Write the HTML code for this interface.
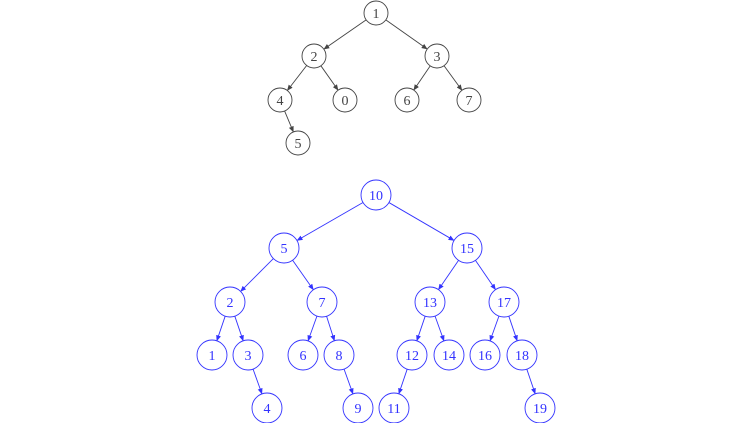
<!DOCTYPE html>
<html><head><meta charset="utf-8"><style>
html,body{margin:0;padding:0;background:#fff;width:752px;height:423px;overflow:hidden}
text{font-family:"Liberation Serif",serif;font-size:14px}
</style></head><body>
<svg id="s" width="752" height="423" xmlns="http://www.w3.org/2000/svg">
<defs>
<marker id="ab" markerWidth="6" markerHeight="6" refX="5" refY="3" orient="auto" markerUnits="userSpaceOnUse"><path d="M0,0.5 L6,3 L0,5.5 z" fill="#444"/></marker>
<marker id="ac" markerWidth="6" markerHeight="6" refX="5" refY="3" orient="auto" markerUnits="userSpaceOnUse"><path d="M0,0.5 L6,3 L0,5.5 z" fill="#3333ff"/></marker>
</defs>
</svg>
<script>
var s=document.getElementById('s'),NS='http://www.w3.org/2000/svg';
function el(n,a,t){var e=document.createElementNS(NS,n);for(var k in a)e.setAttribute(k,a[k]);if(t!==undefined)e.textContent=t;s.appendChild(e);}
function tree(nodes,edges,r,col,mk){
 edges.forEach(function(e){var a=nodes[e[0]],b=nodes[e[1]];var dx=b[0]-a[0],dy=b[1]-a[1],d=Math.hypot(dx,dy);
  el('line',{x1:a[0]+dx/d*r,y1:a[1]+dy/d*r,x2:b[0]-dx/d*(r+0.5),y2:b[1]-dy/d*(r+0.5),stroke:col,'stroke-width':0.9,'marker-end':'url(#'+mk+')'});});
 for(var k in nodes){var p=nodes[k];el('circle',{cx:p[0],cy:p[1],r:r,fill:'#fff',stroke:col,'stroke-width':0.9});
  el('text',{x:p[0],y:p[1]+5,'text-anchor':'middle',fill:col},nodes[k][2]);}
}
tree({a:[376,13,'1'],b:[314,56,'2'],c:[437,56,'3'],d:[280,100,'4'],e:[345,100,'0'],f:[407,100,'6'],g:[469,100,'7'],h:[298,143,'5']},
 [['a','b'],['a','c'],['b','d'],['b','e'],['c','f'],['c','g'],['d','h']],12,'#444','ab');
tree({n10:[376,195,'10'],n5:[284,248,'5'],n15:[467,248,'15'],n2:[230,302,'2'],n7:[322,302,'7'],n13:[430,302,'13'],n17:[504,302,'17'],
 n1:[212,355,'1'],n3:[248,355,'3'],n6:[303,355,'6'],n8:[339,355,'8'],n12:[412,355,'12'],n14:[449,355,'14'],n16:[485,355,'16'],n18:[522,355,'18'],
 n4:[267,408,'4'],n9:[358,408,'9'],n11:[394,408,'11'],n19:[540,408,'19']},
 [['n10','n5'],['n10','n15'],['n5','n2'],['n5','n7'],['n15','n13'],['n15','n17'],['n2','n1'],['n2','n3'],['n7','n6'],['n7','n8'],
  ['n13','n12'],['n13','n14'],['n17','n16'],['n17','n18'],['n3','n4'],['n8','n9'],['n12','n11'],['n18','n19']],15,'#3333ff','ac');
</script>
</body></html>
